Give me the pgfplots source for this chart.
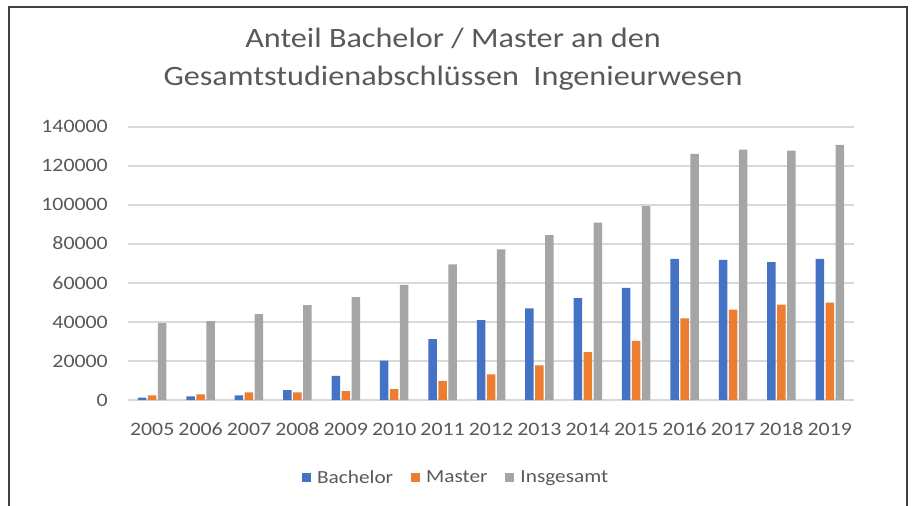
\documentclass[border=0pt]{standalone}
\usepackage{pgfplots}
\pgfplotsset{compat=1.18}
\usepackage{fontspec}
\setmainfont{Carlito}[FakeStretch=1.15]
\definecolor{cblue}{HTML}{4472C4}
\definecolor{corange}{HTML}{ED7D31}
\definecolor{cgray}{HTML}{A5A5A5}
\definecolor{gridgray}{HTML}{D9D9D9}
\definecolor{textgray}{HTML}{595959}
\definecolor{framegray}{HTML}{404040}
\begin{document}
\begin{tikzpicture}
\useasboundingbox (-128bp,-106bp) rectangle (784bp,400bp);
\begin{axis}[
  at={(0bp,0bp)}, anchor=south west,
  scale only axis, width=726bp, height=273bp,
  ymin=0, ymax=140000, xmin=-0.5, xmax=14.5,
  ybar=1.5bp, bar width=8.5bp,
  xtick={0,...,14},
  xticklabels={2005,2006,2007,2008,2009,2010,2011,2012,2013,2014,2015,2016,2017,2018,2019},
  ytick={0,20000,...,140000},
  scaled y ticks=false,
  /pgf/number format/assume math mode=true,
  yticklabel={\pgfmathprintnumber[fixed,1000 sep={}]{\tick}},
  ymajorgrids, grid style={color=gridgray, line width=1.3bp},
  axis line style={draw=none},
  major tick length=0pt,
  tick label style={font=\fontsize{19bp}{22bp}\selectfont, text=textgray, inner sep=0pt},
  yticklabel style={anchor=base east, xshift=-20bp, yshift=-6bp},
  xticklabel style={anchor=base, yshift=-35bp},
  legend columns=3,
  legend style={draw=none, fill=none, at={(0.452,-0.285)}, anchor=center,
    font=\fontsize{18.5bp}{22bp}\selectfont, text=textgray,
    /tikz/every even column/.append style={column sep=16bp}},
  legend image code/.code={\fill[#1] (0bp,-4.5bp) rectangle (9bp,4.5bp); \path (13bp,0bp);},
]
\addplot[fill=cblue, draw=none] coordinates {
(0,1200) (1,1900) (2,2400) (3,5100) (4,12400) (5,20200) (6,31200) (7,40900)
(8,47000) (9,52200) (10,57500) (11,72400) (12,71900) (13,70700) (14,72400)};
\addplot[fill=corange, draw=none] coordinates {
(0,2400) (1,2900) (2,3900) (3,3900) (4,4600) (5,5600) (6,9800) (7,13200)
(8,17800) (9,24600) (10,30300) (11,41900) (12,46300) (13,48900) (14,49900)};
\addplot[fill=cgray, draw=none] coordinates {
(0,39400) (1,40400) (2,44000) (3,48600) (4,52700) (5,59100) (6,69500) (7,77300)
(8,84500) (9,90900) (10,99400) (11,126200) (12,128400) (13,127900) (14,130800)};
\legend{Bachelor,Master,Insgesamt}
\end{axis}
\node[align=center, text=textgray, font=\fontsize{28bp}{38bp}\selectfont] at (325bp,341bp)
  {Anteil Bachelor / Master an den\\Gesamtstudienabschlüssen\ \ Ingenieurwesen};
\draw[line width=1.5bp, color=framegray] (-119bp,-130bp) -- (-119bp,393bp) -- (779bp,393bp) -- (779bp,-130bp);
\end{tikzpicture}
\end{document}
